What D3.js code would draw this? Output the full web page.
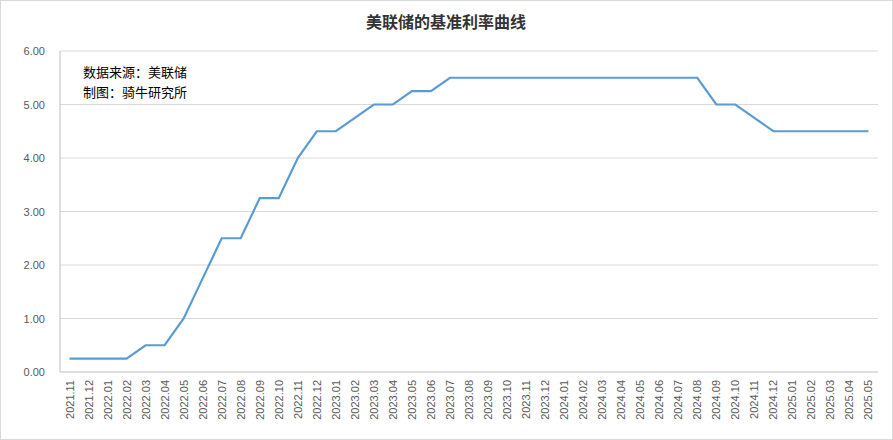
<!DOCTYPE html>
<html><head><meta charset="utf-8">
<script src="https://cdn.jsdelivr.net/npm/d3@7"></script>
<style>body{margin:0;background:#fff}svg{display:block}</style>
</head><body><svg width="893" height="440"></svg>
<script>
const categories = ["2021.11","2021.12","2022.01","2022.02","2022.03","2022.04","2022.05","2022.06","2022.07","2022.08","2022.09","2022.10","2022.11","2022.12","2023.01","2023.02","2023.03","2023.04","2023.05","2023.06","2023.07","2023.08","2023.09","2023.10","2023.11","2023.12","2024.01","2024.02","2024.03","2024.04","2024.05","2024.06","2024.07","2024.08","2024.09","2024.10","2024.11","2024.12","2025.01","2025.02","2025.03","2025.04","2025.05"];
const rates = [0.25,0.25,0.25,0.25,0.5,0.5,1.0,1.75,2.5,2.5,3.25,3.25,4.0,4.5,4.5,4.75,5.0,5.0,5.25,5.25,5.5,5.5,5.5,5.5,5.5,5.5,5.5,5.5,5.5,5.5,5.5,5.5,5.5,5.5,5.0,5.0,4.75,4.5,4.5,4.5,4.5,4.5,4.5];
const yTicks = [0,1,2,3,4,5,6];

const svg = d3.select("svg");
svg.append("rect").attr("x",0.5).attr("y",0.5).attr("width",892).attr("height",439).attr("fill","#fff").attr("stroke","#d9d9d9");
const L=60,R=878,T=51,B=372;
const x = d3.scaleBand().domain(categories).range([L,R]);
const y = d3.scaleLinear().domain([0,6]).range([B,T]);

svg.append("g").selectAll("line").data(yTicks.slice(1)).join("line")
 .attr("x1",L).attr("x2",R).attr("y1",d=>y(d)).attr("y2",d=>y(d)).attr("stroke","#d9d9d9");
svg.append("line").attr("x1",L).attr("x2",L).attr("y1",T).attr("y2",B).attr("stroke","#bfbfbf");
svg.append("line").attr("x1",L).attr("x2",R).attr("y1",B).attr("y2",B).attr("stroke","#bfbfbf");

svg.append("g").selectAll("text").data(yTicks).join("text")
 .attr("x",L-15).attr("y",d=>y(d)+4).attr("text-anchor","end")
 .attr("font-family","Liberation Sans, Arial").attr("font-size",11).attr("fill","#595959")
 .text(d=>d.toFixed(2));

svg.append("g").selectAll("text").data(categories).join("text")
 .attr("transform",d=>`translate(${x(d)+x.bandwidth()/2+4},380) rotate(-90)`)
 .attr("text-anchor","end")
 .attr("font-family","Liberation Sans, Arial").attr("font-size",11).attr("fill","#595959")
 .text(d=>d);

const line = d3.line().x((d,i)=>x(categories[i])+x.bandwidth()/2).y(d=>y(d));
svg.append("path").datum(rates).attr("d",line).attr("fill","none").attr("stroke","#5b9bd5").attr("stroke-width",2.2);

svg.append("text").attr("x",446).attr("y",28).attr("text-anchor","middle")
 .attr("font-family","Noto Sans CJK SC").attr("font-weight","bold").attr("font-size",16).attr("fill","#333").text("美联储的基准利率曲线");
svg.append("text").attr("x",83).attr("y",77).attr("font-family","Noto Sans CJK SC").attr("font-size",13).attr("fill","#000").text("数据来源：美联储");
svg.append("text").attr("x",83).attr("y",97).attr("font-family","Noto Sans CJK SC").attr("font-size",13).attr("fill","#000").text("制图：骑牛研究所");
</script></body></html>
